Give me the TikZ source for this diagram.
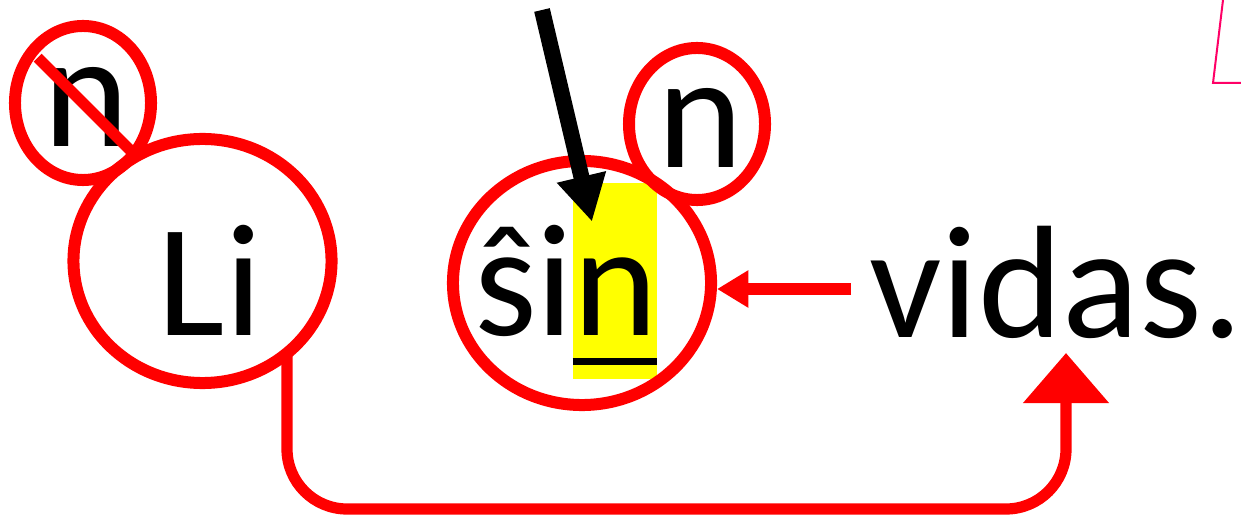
\documentclass[tikz,border=0pt]{standalone}
\usepackage{fontspec}
\setmainfont{Carlito}
\usepackage{tikz}
\usetikzlibrary{positioning,arrows.meta,shapes.geometric,calc}
\usepackage{xcolor}
\definecolor{signRed}{HTML}{FF0000}
\definecolor{markYellow}{HTML}{FFFF00}
\definecolor{hotPink}{HTML}{FF0066}

\begin{document}
\begin{tikzpicture}[x=0.025cm, y=-0.025cm,
    every node/.style={inner sep=0pt},
    bigWord/.style={font=\fontsize{114}{120}\selectfont, anchor=base},
    ringN/.style={font=\fontsize{116}{120}\selectfont, anchor=base},
    bigRing/.style={ellipse, draw=signRed, line width=0.3cm, minimum width=6.45cm, minimum height=6.1cm},
    smallRing/.style={ellipse, draw=signRed, line width=0.3cm, minimum width=3.4cm, minimum height=3.85cm},
    crossLine/.style={draw=signRed, line width=0.28cm},
    redArrow/.style={color=signRed, line width=0.3cm, -{Triangle[length=0.78cm, width=0.88cm]}},
    redLoop/.style={color=signRed, line width=0.28cm, rounded corners=1.5cm, -{Triangle[length=1.25cm, width=2.08cm]}},
    blackArrow/.style={color=black, line width=0.4cm, -{Triangle[length=1.15cm, width=1.18cm]}}
]
    \useasboundingbox (0,0) rectangle (1241,517);

    % Evidenziatura della n
    \node[fill=markYellow, minimum width=2.1cm, minimum height=4.9cm] (nMark) at (615,281) {};

    % Anelli rossi
    \node[bigRing] (liRing) at (202.5,261) {};
    \node[bigRing] (sinRing) at (582,283) {};
    \node[smallRing] (nOld) at (83,103) {};
    \node[smallRing, minimum height=3.8cm] (nNew) at (697,124) {};

    % Parole
    \node[bigWord] (li) at (210,336) {Li};
    \node[bigWord] (sin) at (566,335) {ŝin};
    \node[bigWord] (vidas) at (1056,337) {vidas.};
    \node[ringN] (nOldTxt) at (86.5,147) {n};
    \node[ringN] (nNewTxt) at (700,168) {n};

    % n cancellata
    \draw[crossLine] ($(nOld.center)!0.82!(nOld.135)$) -- ($(nOld.center)!0.9!(nOld.-45)$);

    % Sottolineatura
    \draw[line width=0.175cm] ($(nMark.south west)+(0,-18)$) -- ($(nMark.south east)+(0,-18)$);

    % Freccia nera
    \coordinate (pointTop) at (542,10);
    \coordinate (pointTip) at ($(nMark.north)+(-23,39)$);
    \draw[blackArrow] (pointTop) -- (pointTip);

    % vidas -> ŝin
    \coordinate (vidasIn) at ($(vidas.base west)+(-18,-48)$);
    \draw[redArrow] (vidasIn) -- (vidasIn -| sinRing.east);

    % Li -> vidas
    \coordinate (liFoot) at (287,353);
    \draw[redLoop] (liFoot) |- ($(vidas.base)+(10,172)$) -- ($(vidas.base)+(10,16)$);

    % segno rosa al margine
    \draw[hotPink, line width=0.05cm] (1223,0) -- (1213,83) -- (1241,83);
\end{tikzpicture}
\end{document}
